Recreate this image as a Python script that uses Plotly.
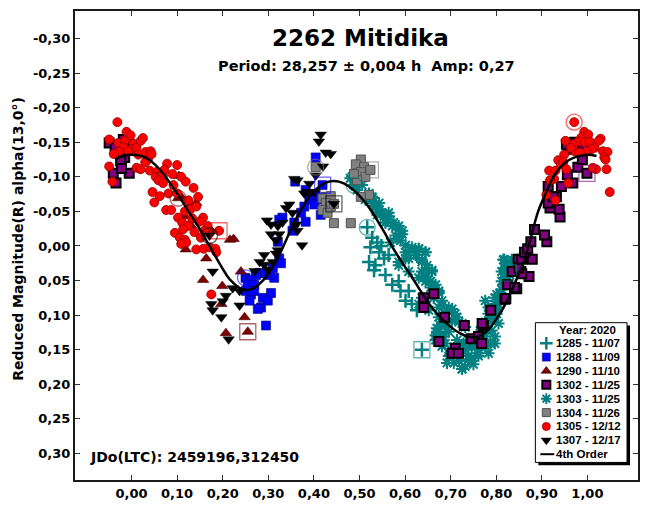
import plotly.graph_objects as go

# ---------------- data: phase / reduced magnitude per session ----------------
SESSIONS = ["1285 - 11/07", "1288 - 11/09", "1290 - 11/10", "1302 - 11/25",
            "1303 - 11/25", "1304 - 11/26", "1305 - 12/12", "1307 - 12/17"]

PHASE_1285 = [0.517, 0.528, 0.539, 0.524, 0.543, 0.554, 0.564, 0.521, 0.532, 0.557, 0.572,
              0.586, 0.608, 0.601, 0.615, 0.626, 0.535, 0.548, 0.590, 0.637]
MAG_1285 = [-0.027, -0.012, -0.005, 0.002, 0.009, 0.018, 0.013, 0.023, 0.035, 0.042, 0.056,
            0.051, 0.065, 0.079, 0.084, 0.093, 0.028, 0.000, 0.065, 0.150]

PHASE_1288 = [0.250, 0.404, 0.359, 0.382, 0.393, 0.404, 0.411, 0.390, 0.379, 0.401, 0.331,
              0.324, 0.357, 0.382, 0.353, 0.321, 0.324, 0.328, 0.310, 0.313, 0.302, 0.295,
              0.281, 0.273, 0.262, 0.255, 0.269, 0.251, 0.262, 0.269, 0.288, 0.306, 0.299,
              0.284, 0.277, 0.259, 0.295, 0.372, 0.415, 0.419]
MAG_1288 = [0.046, -0.128, -0.093, -0.081, -0.074, -0.074, -0.067, -0.067, -0.057, -0.060, -0.041,
            -0.038, -0.034, -0.035, -0.022, -0.006, 0.018, 0.025, 0.032, 0.046, 0.042, 0.039,
            0.039, 0.042, 0.049, 0.056, 0.056, 0.065, 0.070, 0.065, 0.075, 0.068, 0.079,
            0.089, 0.091, 0.079, 0.115, -0.048, -0.045, -0.088]

PHASE_1290 = [0.102, 0.104, 0.126, 0.142, 0.117, 0.135, 0.175, 0.216, 0.224, 0.119, 0.109,
              0.164, 0.157, 0.199, 0.240, 0.197, 0.248, 0.207, 0.130, 0.255]
MAG_1290 = [-0.069, -0.101, -0.057, -0.062, -0.043, -0.038, -0.022, -0.009, -0.010, 0.005, -0.071,
            0.018, 0.049, 0.058, 0.037, 0.084, 0.103, 0.126, -0.030, 0.124]

PHASE_1302 = [-0.049, -0.036, -0.018, -0.007, -0.015, -0.024, -0.040, -0.034, -0.005, -0.022, -0.010,
              0.641, 0.663, 0.641, 0.687, 0.674, 0.710, 0.703, 0.717, 0.730, 0.745, 0.761,
              0.768, 0.772, 0.819, 0.825, 0.845, 0.835, 0.854, 0.848,
              0.769, 0.788, 0.821, 0.840, 0.872, 0.856, 0.849, 0.879, 0.856, 0.862, 0.869,
              0.876, 0.911, 0.906, 0.884, 0.940, 0.938, 0.918, 0.914, 0.932, 0.925, 0.914,
              0.943, 0.968, 0.956, 0.979, 0.989, 0.980, 0.991, 0.972, 0.958, 0.954, 0.999]
MAG_1302 = [-0.149, -0.142, -0.154, -0.149, -0.128, -0.123, -0.105, -0.091, -0.105, -0.112, -0.140,
            0.075, 0.069, 0.089, 0.103, 0.138, 0.148, 0.155, 0.155, 0.115, 0.134, 0.131,
            0.141, 0.115, 0.077, 0.056, 0.062, 0.037, 0.037, 0.019,
            0.112, 0.093, 0.076, 0.060, 0.044, 0.040, 0.032, 0.019, 0.019, 0.009, 0.004,
            -0.006, -0.006, -0.016, -0.024, -0.042, -0.053, -0.055, -0.062, -0.071, -0.071, -0.086,
            -0.086, -0.091, -0.103, -0.114, -0.125, -0.142, -0.147, -0.150, -0.140, -0.147, -0.105]

PHASE_1303 = [0.488, 0.480, 0.492, 0.506, 0.495, 0.521, 0.528, 0.543, 0.550, 0.565, 0.539,
              0.557, 0.575, 0.586, 0.594, 0.583, 0.601, 0.612, 0.630, 0.645, 0.623, 0.637,
              0.648, 0.659, 0.637, 0.601, 0.586, 0.608, 0.630, 0.645, 0.656, 0.674, 0.663,
              0.681, 0.674, 0.692, 0.703, 0.714, 0.725, 0.703, 0.688, 0.674, 0.670, 0.667,
              0.681, 0.688, 0.696, 0.707, 0.725, 0.739, 0.746, 0.761, 0.776, 0.783, 0.754,
              0.739, 0.776, 0.790, 0.768, 0.779, 0.790, 0.801, 0.805, 0.797, 0.808, 0.816,
              0.819, 0.812, 0.823, 0.830, 0.818, 0.637, 0.630, 0.652, 0.696, 0.714, 0.728,
              0.732, 0.718, 0.750, 0.761, 0.787, 0.797, 0.484, 0.499, 0.528, 0.513, 0.535,
              0.816, 0.823, 0.812, 0.801, 0.776, 0.783, 0.768, 0.830, 0.827,
              0.528, 0.543, 0.554, 0.564, 0.557, 0.572, 0.586, 0.594, 0.579, 0.568, 0.590,
              0.601, 0.615, 0.630, 0.645, 0.626, 0.608, 0.586, 0.637, 0.648, 0.659, 0.645,
              0.656, 0.667, 0.674, 0.663, 0.681, 0.696, 0.710, 0.688, 0.718, 0.732, 0.703,
              0.678, 0.670, 0.685, 0.667, 0.681, 0.699, 0.692, 0.718, 0.732, 0.746, 0.761,
              0.776, 0.754, 0.765, 0.779, 0.776, 0.790, 0.805, 0.783, 0.798, 0.809, 0.820,
              0.812, 0.823, 0.830, 0.820, 0.816, 0.834, 0.769, 0.739, 0.725, 0.710, 0.797]
MAG_1303 = [-0.088, -0.098, -0.090, -0.088, -0.081, -0.076, -0.069, -0.062, -0.048, -0.043, -0.045,
            -0.034, -0.034, -0.024, -0.017, -0.010, -0.001, 0.006, 0.004, 0.009, 0.013, 0.020,
            0.028, 0.035, 0.037, 0.018, 0.028, 0.037, 0.046, 0.051, 0.060, 0.065, 0.075,
            0.079, 0.089, 0.093, 0.091, 0.103, 0.112, 0.108, 0.115, 0.103, 0.119, 0.129,
            0.131, 0.141, 0.159, 0.169, 0.178, 0.159, 0.145, 0.150, 0.145, 0.155, 0.141,
            0.136, 0.131, 0.122, 0.122, 0.112, 0.103, 0.098, 0.089, 0.075, 0.068, 0.056,
            0.046, 0.037, 0.028, 0.023, 0.020, 0.075, 0.084, 0.093, 0.124, 0.136, 0.141,
            0.150, 0.166, 0.171, 0.159, 0.141, 0.131, -0.100, -0.095, -0.071, -0.067, -0.057,
            0.020, 0.032, 0.051, 0.070, 0.079, 0.098, 0.117, 0.039, 0.039,
            -0.062, -0.053, -0.043, -0.048, -0.034, -0.029, -0.029, -0.022, -0.015, -0.005, -0.008,
            0.009, 0.002, 0.004, 0.009, 0.013, 0.018, 0.023, 0.023, 0.032, 0.037, 0.044,
            0.051, 0.056, 0.068, 0.075, 0.086, 0.089, 0.098, 0.098, 0.110, 0.117, 0.108,
            0.115, 0.126, 0.131, 0.136, 0.145, 0.157, 0.169, 0.166, 0.174, 0.162, 0.155,
            0.145, 0.145, 0.126, 0.122, 0.110, 0.108, 0.112, 0.089, 0.084, 0.079, 0.075,
            0.063, 0.051, 0.042, 0.032, 0.020, 0.020, 0.136, 0.164, 0.178, 0.154, 0.141]

PHASE_1304 = [0.404, 0.503, 0.492, 0.510, 0.503, 0.513, 0.495, 0.521, 0.503, 0.426, 0.419,
              0.437, 0.426, 0.437, 0.419, 0.430, 0.444, 0.481, 0.488, 0.444, 0.524]
MAG_1304 = [-0.114, -0.125, -0.118, -0.114, -0.107, -0.100, -0.095, -0.074, -0.071, -0.071, -0.069,
            -0.072, -0.062, -0.057, -0.052, -0.048, -0.033, -0.033, -0.104, -0.061, -0.110]

PHASE_1305 = [0.971, 0.952, 0.993, 0.987, 1.002, 0.980, 0.969, 0.995, 1.005, 1.029, 1.025,
              1.016, 1.034, 1.044, 1.037, 1.040, 1.009, 0.998, 0.972, 0.983, 0.964, 0.949,
              0.936, 0.942, 0.947, 0.916, 0.930, 0.958, 0.927, 0.918, 0.910, 0.930, 1.019,
              1.012, 1.042, 1.049, 0.954,
              -0.031, -0.049, -0.029, -0.011, -0.002, -0.015, -0.018, 0.004, 0.000, -0.027,
              -0.007, -0.039, -0.049, -0.042, 0.011, 0.020, 0.025, 0.015, 0.031, 0.042,
              0.036, 0.044, 0.011, 0.020, 0.040, 0.078, 0.100, 0.055, 0.053, 0.062,
              0.069, 0.059, 0.069, 0.090, 0.109, 0.119, 0.136, 0.081, 0.062, 0.046,
              0.050, 0.076, 0.087, 0.102, 0.117, 0.129, 0.142, 0.157, 0.149, 0.111,
              0.124, 0.138, 0.095, 0.113, 0.106, 0.117, 0.120, 0.109, 0.142, 0.158,
              0.171, 0.184, 0.100, 0.175, 0.167, 0.160, 0.186, 0.146, 0.192,
              0.030, 0.072, 0.092, 0.125, 0.133, 0.152]
MAG_1305 = [-0.179, -0.152, -0.165, -0.157, -0.161, -0.151, -0.147, -0.150, -0.151, -0.155, -0.152,
            -0.142, -0.137, -0.136, -0.128, -0.125, -0.140, -0.137, -0.137, -0.135, -0.142, -0.132,
            -0.124, -0.118, -0.121, -0.109, -0.109, -0.091, -0.097, -0.095, -0.074, -0.066, -0.111,
            -0.113, -0.111, -0.078, -0.111,
            -0.179, -0.154, -0.149, -0.165, -0.160, -0.152, -0.143, -0.148, -0.140, -0.136,
            -0.137, -0.133, -0.115, -0.093, -0.142, -0.152, -0.156, -0.132, -0.136, -0.137,
            -0.125, -0.133, -0.113, -0.111, -0.109, -0.119, -0.117, -0.107, -0.100, -0.100,
            -0.102, -0.095, -0.091, -0.104, -0.100, -0.093, -0.084, -0.076, -0.072, -0.078,
            -0.063, -0.052, -0.052, -0.041, -0.050, -0.053, -0.057, -0.041, -0.035, -0.034,
            -0.029, -0.020, -0.019, -0.024, -0.012, -0.009, -0.005, -0.003, 0.005, 0.004,
            0.002, 0.004, -0.076, 0.070, -0.029, -0.022, 0.009, -0.071, -0.022,
            -0.121, -0.110, -0.088, -0.066, -0.040, -0.012]

PHASE_1307 = [0.171, 0.415, 0.411, 0.426, 0.437, 0.357, 0.364, 0.404, 0.386, 0.379, 0.401,
              0.339, 0.346, 0.353, 0.364, 0.361, 0.374, 0.297, 0.306, 0.321, 0.331, 0.324,
              0.306, 0.317, 0.321, 0.317, 0.310, 0.291, 0.281, 0.270, 0.291, 0.299, 0.237,
              0.222, 0.207, 0.200, 0.175, 0.178, 0.197, 0.237, 0.213, 0.178, 0.420, 0.390,
              0.444]
MAG_1307 = [-0.015, -0.161, -0.151, -0.135, -0.133, -0.097, -0.095, -0.102, -0.078, -0.076, -0.078,
            -0.055, -0.060, -0.048, -0.022, -0.031, -0.001, -0.037, -0.031, -0.029, -0.034, -0.017,
            -0.017, -0.008, 0.006, 0.011, 0.023, 0.013, 0.023, 0.036, 0.027, 0.034, 0.065,
            0.061, 0.072, 0.080, 0.084, 0.093, 0.103, 0.086, 0.135, 0.037, -0.115, -0.090,
            -0.061]

PHASES = dict(zip(SESSIONS, [PHASE_1285, PHASE_1288, PHASE_1290, PHASE_1302,
                             PHASE_1303, PHASE_1304, PHASE_1305, PHASE_1307]))
MAGS = dict(zip(SESSIONS, [MAG_1285, MAG_1288, MAG_1290, MAG_1302,
                           MAG_1303, MAG_1304, MAG_1305, MAG_1307]))

# first / last observation of each session
HL_SESSION = ["1285 - 11/07", "1285 - 11/07", "1288 - 11/09", "1288 - 11/09", "1290 - 11/10",
              "1290 - 11/10", "1302 - 11/25", "1303 - 11/25", "1303 - 11/25", "1304 - 11/26",
              "1304 - 11/26", "1305 - 12/12", "1305 - 12/12", "1307 - 12/17", "1307 - 12/17"]
HL_KIND = ["first", "last", "first", "last", "first", "last", "last", "first", "last",
           "first", "last", "first", "last", "first", "last"]
HL_PHASE = [0.517, 0.637, 0.250, 0.419, 0.102, 0.255, 0.999, 0.488, 0.827, 0.404, 0.524,
            0.971, 0.192, 0.171, 0.444]
HL_MAG = [-0.027, 0.150, 0.046, -0.088, -0.069, 0.124, -0.105, -0.088, 0.039, -0.114, -0.110,
          -0.179, -0.022, -0.015, -0.061]

# 4th order Fourier fit, sampled
FIT_PHASE = [-0.036, -0.02, 0.00, 0.03, 0.06, 0.098, 0.125, 0.149, 0.178, 0.20, 0.215, 0.244,
             0.265, 0.288, 0.305, 0.324, 0.36, 0.385, 0.405, 0.433, 0.455, 0.477, 0.514, 0.55,
             0.579, 0.61, 0.637, 0.66, 0.688, 0.72, 0.746, 0.765, 0.783, 0.80, 0.82, 0.84,
             0.863, 0.892, 0.91, 0.929, 0.95, 0.972, 1.00, 1.02]
FIT_MAG = [-0.125, -0.130, -0.132, -0.128, -0.112, -0.078, -0.050, -0.025, 0.008, 0.033, 0.048,
           0.063, 0.062, 0.050, 0.035, 0.013, -0.038, -0.066, -0.082, -0.093, -0.093, -0.086,
           -0.062, -0.025, 0.009, 0.040, 0.068, 0.090, 0.110, 0.126, 0.132, 0.130, 0.121, 0.106,
           0.084, 0.055, 0.018, -0.050, -0.078, -0.104, -0.120, -0.128, -0.132, -0.130]

X_TICKS = [0.0, 0.1, 0.2, 0.3, 0.4, 0.5, 0.6, 0.7, 0.8, 0.9, 1.0]
Y_TICKS = [-0.30, -0.25, -0.20, -0.15, -0.10, -0.05, 0.0, 0.05, 0.10, 0.15, 0.20, 0.25, 0.30]

# ---------------- styling ----------------
FONT = "DejaVu Sans"
LEG_FONT = "Liberation Sans"
TEAL = "#008080"
STYLE = {
    "1285 - 11/07": dict(symbol="cross-thin-open", color=TEAL, line=TEAL, lw=2.5, size=10),
    "1288 - 11/09": dict(symbol="square", color="#0000FF", line="#00006A", lw=0.6, size=9),
    "1290 - 11/10": dict(symbol="triangle-up", color="#800000", line="#400000", lw=0.6, size=10),
    "1302 - 11/25": dict(symbol="square", color="#800080", line="#000000", lw=2, size=9),
    "1303 - 11/25": dict(symbol="asterisk-open", color=TEAL, line=TEAL, lw=2, size=10),
    "1304 - 11/26": dict(symbol="square", color="#808080", line="#505050", lw=1, size=9),
    "1305 - 12/12": dict(symbol="circle", color="#FF0000", line="#8B0000", lw=0.8, size=9),
    "1307 - 12/17": dict(symbol="triangle-down", color="#000000", line="#000000", lw=0.5, size=10),
}
HL_SYMBOL = {"first": "circle-open", "last": "square-open"}
# stacking order of the sessions on the plot (legend keeps SESSIONS order)
DRAW_ORDER = ["1285 - 11/07", "1303 - 11/25", "1288 - 11/09", "1290 - 11/10", "1302 - 11/25",
              "1304 - 11/26", "1305 - 12/12", "1307 - 12/17"]

# plot area in pixels (page 649 x 510)
W, H = 649, 510
PL, PR, PT, PB = 75, 640, 10, 490


def paper_x(px):
    return (px - PL) / (PR - PL)


def paper_y(py):
    return (PB - py) / (PB - PT)


def tick_text(v):
    return f"{v:.2f}".replace(".", ",")


fig = go.Figure()

for name in DRAW_ORDER:
    s = STYLE[name]
    fig.add_trace(go.Scatter(
        x=PHASES[name], y=MAGS[name], mode="markers", name=name, showlegend=False,
        marker=dict(symbol=s["symbol"], size=s["size"], color=s["color"],
                    line=dict(color=s["line"], width=s["lw"]))))

# rings around first / last observation of each session
for sess, kind, ph, mg in zip(HL_SESSION, HL_KIND, HL_PHASE, HL_MAG):
    c = STYLE[sess]["color"]
    fig.add_trace(go.Scatter(
        x=[ph], y=[mg], mode="markers", showlegend=False, opacity=0.6,
        marker=dict(symbol=HL_SYMBOL[kind], size=16, color=c, line=dict(color=c, width=1.3))))

fig.add_trace(go.Scatter(x=FIT_PHASE, y=FIT_MAG, mode="lines", name="4th Order",
                         showlegend=False, line=dict(color="black", width=2.5, shape="spline")))

# ---------------- legend box ----------------
LEG_L, LEG_R, LEG_T, LEG_B = 537, 629, 329, 472
ROW_Y0, ROW_STEP = 350, 14.2
KEY_X, TXT_X = 548, 556

fig.add_shape(type="rect", xref="paper", yref="paper", layer="below",
              x0=paper_x(LEG_L + 3), x1=paper_x(LEG_R + 3), y0=paper_y(LEG_B + 3), y1=paper_y(LEG_T + 3),
              fillcolor="black", line=dict(width=0))
fig.add_shape(type="rect", xref="paper", yref="paper", layer="below",
              x0=paper_x(LEG_L), x1=paper_x(LEG_R), y0=paper_y(LEG_B), y1=paper_y(LEG_T),
              fillcolor="white", line=dict(color="black", width=1))

fig.add_annotation(x=paper_x(589), y=paper_y(336), xref="paper", yref="paper",
                   text="Year: 2020", showarrow=False, xanchor="center", yanchor="middle",
                   font=dict(family=LEG_FONT, size=11.5, color="black", weight="bold"))

for i, name in enumerate(SESSIONS + ["4th Order"]):
    ry = ROW_Y0 + i * ROW_STEP
    if name in STYLE:
        s = STYLE[name]
        fig.add_trace(go.Scatter(
            x=[paper_x(KEY_X)], y=[paper_y(ry)], xaxis="x2", yaxis="y2", mode="markers",
            showlegend=False, hoverinfo="skip",
            marker=dict(symbol=s["symbol"], size=s["size"] - 1, color=s["color"],
                        line=dict(color=s["line"], width=s["lw"]))))
    else:
        fig.add_shape(type="line", xref="paper", yref="paper",
                      x0=paper_x(KEY_X - 6), x1=paper_x(KEY_X + 8), y0=paper_y(ry), y1=paper_y(ry),
                      line=dict(color="black", width=2))
    fig.add_annotation(x=paper_x(TXT_X), y=paper_y(ry), xref="paper", yref="paper",
                       text=name, showarrow=False, xanchor="left", yanchor="middle",
                       font=dict(family=LEG_FONT, size=11.5, color="black", weight="bold"))

# ---------------- titles ----------------
fig.add_annotation(x=paper_x(362), y=paper_y(38), xref="paper", yref="paper",
                   text="2262 Mitidika", showarrow=False, xanchor="center", yanchor="middle",
                   font=dict(family=FONT, size=23, color="black", weight="bold"))
fig.add_annotation(x=paper_x(368), y=paper_y(66), xref="paper", yref="paper",
                   text="Period: 28,257 ± 0,004 h \u00a0Amp: 0,27", showarrow=False,
                   xanchor="center", yanchor="middle",
                   font=dict(family=FONT, size=14.5, color="black", weight="bold"))
fig.add_annotation(x=paper_x(88), y=paper_y(466), xref="paper", yref="paper",
                   text="JDo(LTC): 2459196,312450", showarrow=False, xanchor="left", yanchor="middle",
                   font=dict(family=FONT, size=14, color="black", weight="bold"))
fig.add_annotation(x=paper_x(17), y=paper_y(243), xref="paper", yref="paper",
                   text="Reduced Magnitude(R) alpha(13,0°)", showarrow=False, textangle=-90,
                   xanchor="center", yanchor="middle",
                   font=dict(family=FONT, size=14, color="black", weight="bold"))

axis_common = dict(showgrid=False, zeroline=False, showline=True, linecolor="#1a1a1a", linewidth=2,
                   mirror="allticks", ticks="inside", ticklen=5, tickwidth=1, tickcolor="#333333",
                   tickfont=dict(family=FONT, size=13, color="black", weight="bold"))

fig.update_layout(
    width=W, height=H, autosize=False,
    margin=dict(l=PL, r=W - PR, t=PT, b=H - PB),
    paper_bgcolor="white", plot_bgcolor="white",
    xaxis=dict(range=[-0.124, 1.111], tickvals=X_TICKS, ticktext=[tick_text(v) for v in X_TICKS],
               **axis_common),
    yaxis=dict(range=[0.3383, -0.3397], tickvals=Y_TICKS, ticktext=[tick_text(v) for v in Y_TICKS],
               **axis_common),
    xaxis2=dict(overlaying="x", range=[0, 1], visible=False),
    yaxis2=dict(overlaying="y", range=[0, 1], visible=False),
    showlegend=False,
)

fig.write_html("out.html")
